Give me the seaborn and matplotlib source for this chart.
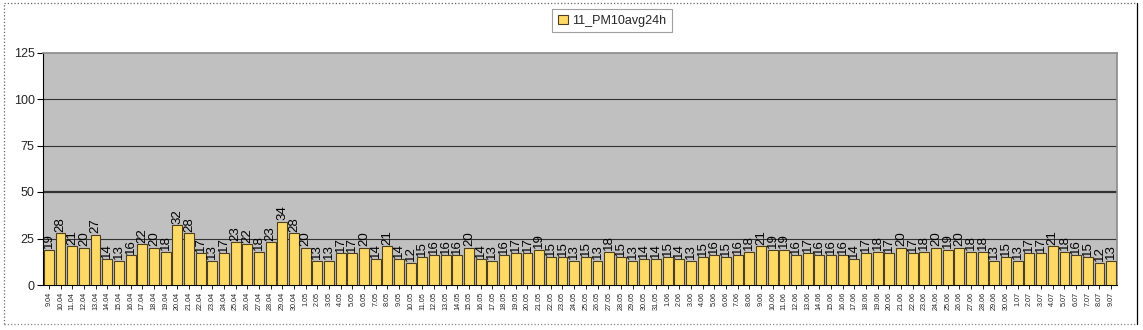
import matplotlib
matplotlib.use("Agg")
import matplotlib.pyplot as plt
import seaborn as sns
import pandas as pd
from matplotlib.patches import Rectangle
from matplotlib.lines import Line2D

dates = (
    [f"{d}.04" for d in range(9, 31)]
    + [f"{d}.05" for d in range(1, 32)]
    + [f"{d}.06" for d in range(1, 31)]
    + [f"{d}.07" for d in range(1, 10)]
)
april = [19, 28, 21, 20, 27, 14, 13, 16, 22, 20, 18, 32, 28, 17, 13, 17, 23, 22, 18, 23, 34, 28]
may = [20, 13, 13, 17, 17, 20, 14, 21, 14, 12, 15, 16, 16, 16, 20, 14, 13, 16, 17, 17, 19, 15,
       15, 13, 15, 13, 18, 15, 13, 14, 14]
june = [15, 14, 13, 15, 16, 15, 16, 18, 21, 19, 19, 16, 17, 16, 16, 16, 14, 17, 18, 17, 20, 17,
        18, 20, 19, 20, 18, 18, 13, 15]
july = [13, 17, 17, 21, 18, 16, 15, 12, 13]
values = april + may + june + july
series_name = "11_PM10avg24h"
yticks = [0, 25, 50, 75, 100, 125]

df = pd.DataFrame({"date": dates, "value": values})

sns.set_theme(style="white")
plt.rcParams["font.family"] = ["Liberation Sans", "DejaVu Sans"]

bar_color = "#FFD966"
edge_color = "#4a4020"

fig = plt.figure(figsize=(11.43, 3.30), dpi=100)
ax = fig.add_axes([43 / 1143, 1 - 285 / 330, (1117 - 43) / 1143, (285 - 52.5) / 330])
ax.set_facecolor("#C0C0C0")

sns.barplot(data=df, x="date", y="value", ax=ax, color=bar_color, saturation=1,
            edgecolor=edge_color, linewidth=0.8, width=0.85, zorder=3)

for y in [25, 75, 100]:
    ax.axhline(y, color="#333333", linewidth=0.8, zorder=1)
ax.axhline(50, color="#333333", linewidth=1.6, zorder=1)

ax.set_ylim(0, 125)
ax.set_xlim(-0.5, len(dates) - 0.5)
ax.set_yticks(yticks)
ax.set_yticklabels([str(t) for t in yticks], fontsize=9)
ax.tick_params(axis="y", length=4, width=0.8, color="black", pad=2, left=True)
ax.tick_params(axis="x", length=3, width=0.6, color="black", pad=2, bottom=True)
ax.set_xticks(range(len(dates)))
ax.set_xticklabels(dates, rotation=90, fontsize=5.2, color="#222222")
ax.set_xlabel("")
ax.set_ylabel("")

for side in ["top", "right"]:
    ax.spines[side].set_color("#8a8a8a")
    ax.spines[side].set_linewidth(1.2)
ax.spines["left"].set_color("black")
ax.spines["bottom"].set_color("black")
ax.spines["left"].set_linewidth(0.8)
ax.spines["bottom"].set_linewidth(0.8)

ax.bar_label(ax.containers[0], labels=[str(v) for v in values], rotation=90,
             fontsize=9.5, padding=1, color="black")

# legend
handle = Rectangle((0, 0), 1, 1, facecolor=bar_color, edgecolor=edge_color, linewidth=0.8)
leg = fig.legend([handle], [series_name], loc="upper center", bbox_to_anchor=(612 / 1143, 1 - 9 / 330),
                 fontsize=9, frameon=True, fancybox=False, edgecolor="#888888",
                 handlelength=0.8, handleheight=0.8, handletextpad=0.3, borderpad=0.45,
                 borderaxespad=0)
leg.get_frame().set_linewidth(0.8)

# outer border: dotted left/top/bottom, solid right
L, R, T, B = 4 / 1143, 1137 / 1143, 1 - 3 / 330, 1 - 324 / 330
for xs, ys, st, col in [([L, R], [T, T], ":", "#666666"),
                        ([L, R], [B, B], ":", "#888888"),
                        ([L, L], [B, T], ":", "#666666"),
                        ([R, R], [B, T], "-", "black")]:
    fig.add_artist(Line2D(xs, ys, transform=fig.transFigure, color=col, linewidth=0.9, linestyle=st))

fig.savefig("out.png", dpi=100)
